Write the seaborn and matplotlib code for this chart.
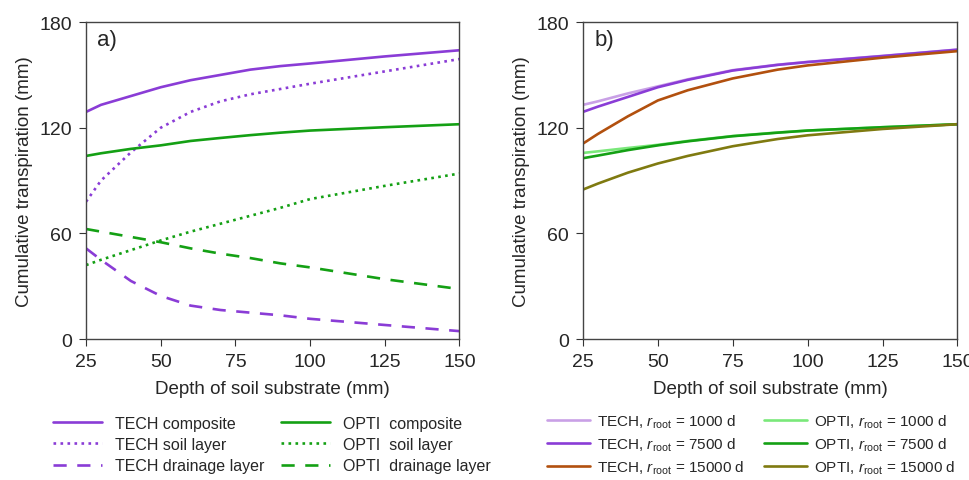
import numpy as np
import pandas as pd
import matplotlib
matplotlib.use("Agg")
import matplotlib.pyplot as plt
from matplotlib.lines import Line2D
import seaborn as sns

# panel a) depths and series
depth_a = [25, 30, 40, 50, 60, 70, 80, 90, 100, 125, 150]
tech_comp = [129, 133, 138, 143, 147, 150, 153, 155, 156.5, 160.5, 164]
tech_soil = [78, 90, 106, 120, 129, 135, 139, 142, 145, 152, 159]
tech_drain = [51.5, 45, 33, 24.5, 19, 16.5, 15, 13.5, 11.5, 8, 4.5]
opti_comp = [104, 105.5, 108, 110, 112.5, 114.2, 115.8, 117.2, 118.4, 120.3, 122]
opti_soil = [42, 45, 50.5, 56, 61, 65.5, 70, 74.5, 79.5, 87, 94]
opti_drain = [62.5, 61, 58, 55, 51.5, 48.5, 46, 43, 40.7, 34, 28.4]

# panel b) root growth scenarios
depth_b = [25, 30, 40, 50, 60, 75, 90, 100, 125, 150]
tech_1000 = [133, 135, 139.5, 143.5, 147.5, 152.7, 155.8, 157.4, 160.8, 164.4]
tech_7500 = [129, 132, 137.5, 143, 147.2, 152.5, 155.7, 157.3, 160.7, 164.3]
tech_15000 = [111, 116.5, 126.5, 135.5, 141.3, 148, 153, 155.4, 159.8, 163.5]
opti_1000 = [105.7, 106.6, 108.5, 110.3, 112.5, 115.3, 117.3, 118.4, 120.3, 122]
opti_7500 = [102.7, 104.2, 107.3, 110, 112.3, 115.2, 117.2, 118.4, 120.3, 122]
opti_15000 = [84.9, 88.3, 94.5, 99.7, 104, 109.5, 113.6, 115.7, 119.3, 122]

purple = "#8a3cd6"
green = "#14a014"

sns.set_style("ticks")
plt.rcParams["font.family"] = ["Liberation Sans", "DejaVu Sans"]
plt.rcParams["mathtext.fontset"] = "custom"
plt.rcParams["mathtext.it"] = "Liberation Sans:italic"
plt.rcParams["mathtext.rm"] = "Liberation Sans"

fig = plt.figure(figsize=(9.7, 4.81), dpi=100)
ax1 = fig.add_axes([0.0887, 0.293, 0.385, 0.659])
ax2 = fig.add_axes([0.601, 0.293, 0.386, 0.659])

series_a = [
    ("TECH composite", tech_comp, purple, "-"),
    ("TECH soil layer", tech_soil, purple, ":"),
    ("TECH drainage layer", tech_drain, purple, (0, (5, 4))),
    ("OPTI  composite", opti_comp, green, "-"),
    ("OPTI  soil layer", opti_soil, green, ":"),
    ("OPTI  drainage layer", opti_drain, green, (0, (5, 4))),
]
for name, vals, col, ls in series_a:
    df = pd.DataFrame({"depth": depth_a, "T": vals})
    sns.lineplot(data=df, x="depth", y="T", ax=ax1, color=col, linestyle=ls, lw=1.9)

series_b = [
    (r"TECH, $r_{\mathrm{root}}$ = 1000 d", tech_1000, "#c9a0e6"),
    (r"TECH, $r_{\mathrm{root}}$ = 7500 d", tech_7500, purple),
    (r"TECH, $r_{\mathrm{root}}$ = 15000 d", tech_15000, "#b2500e"),
    (r"OPTI, $r_{\mathrm{root}}$ = 1000 d", opti_1000, "#7ae87a"),
    (r"OPTI, $r_{\mathrm{root}}$ = 7500 d", opti_7500, green),
    (r"OPTI, $r_{\mathrm{root}}$ = 15000 d", opti_15000, "#7f7a10"),
]
for name, vals, col in series_b:
    df = pd.DataFrame({"depth": depth_b, "T": vals})
    sns.lineplot(data=df, x="depth", y="T", ax=ax2, color=col, lw=1.9)

for ax, lab in [(ax1, "a)"), (ax2, "b)")]:
    ax.set_xlim(25, 150)
    ax.set_ylim(0, 180)
    ax.set_xticks([25, 50, 75, 100, 125, 150])
    ax.set_yticks([0, 60, 120, 180])
    ax.tick_params(labelsize=14, direction="out", length=5, pad=5, color="#333333")
    ax.set_xlabel("Depth of soil substrate (mm)", fontsize=13.5, labelpad=7)
    ax.set_ylabel("Cumulative transpiration (mm)", fontsize=13.5, labelpad=5)
    for s in ax.spines.values():
        s.set_visible(True)
        s.set_color("#444444")
        s.set_linewidth(1)
    ax.text(0.03, 0.945, lab, transform=ax.transAxes, fontsize=16, va="center")

h_a = [Line2D([], [], color=c, linestyle=ls, lw=1.9) for _, _, c, ls in series_a]
fig.legend(h_a, [s[0] for s in series_a], ncol=2, frameon=False, fontsize=11.5,
           loc="upper left", bbox_to_anchor=(0.048, 0.147), handlelength=3.1,
           columnspacing=1.0, labelspacing=0.4, handletextpad=0.8,
           borderaxespad=0)

h_b = [Line2D([], [], color=c, lw=1.9) for _, _, c in series_b]
fig.legend(h_b, [s[0] for s in series_b], ncol=2, frameon=False, fontsize=11,
           loc="upper left", bbox_to_anchor=(0.558, 0.153), handlelength=2.8,
           columnspacing=1.3, labelspacing=0.36, handletextpad=0.45,
           borderaxespad=0)

fig.savefig("out.png", dpi=100)
